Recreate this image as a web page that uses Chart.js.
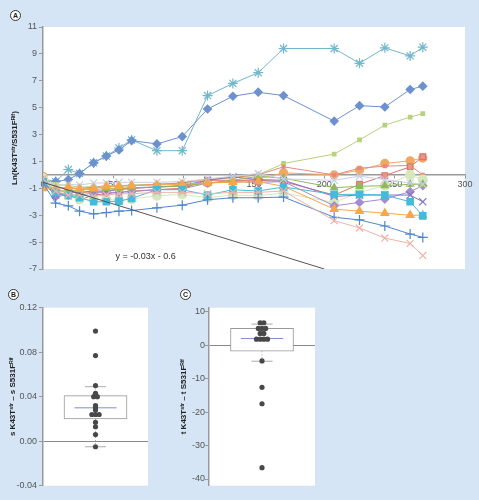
<!DOCTYPE html>
<html>
<head>
<meta charset="utf-8">
<script src="https://cdn.jsdelivr.net/npm/chart.js@4.4.1/dist/chart.umd.min.js"></script>
<style>
  body { margin: 0; background: #d5e5f5; font-family: Arial, "Liberation Sans", sans-serif; }
  #wrap { position: relative; width: 479px; height: 500px; overflow: hidden; }
  canvas { position: absolute; }
  .tag { position: absolute; width: 9px; height: 9px; border: 1px solid #333; border-radius: 50%;
         background: #fff; font-size: 7px; font-weight: bold; line-height: 9px; text-align: center; color: #222; }
</style>
</head>
<body>
<div id="wrap">
  <canvas id="chartA" style="left:0px;top:0px" width="479" height="290"></canvas>
  <canvas id="chartB" style="left:0px;top:290px" width="180" height="210"></canvas>
  <canvas id="chartC" style="left:176px;top:290px" width="170" height="210"></canvas>
  <div class="tag" style="left:10px;top:10px">A</div>
  <div class="tag" style="left:8px;top:289px">B</div>
  <div class="tag" style="left:180px;top:289px">C</div>
</div>
<script>
// panel A: time points and log ratio per population
var days = [0, 9, 18, 26, 36, 45, 54, 63, 81, 99, 117, 135, 153, 171, 207, 225, 243, 261, 270];

var starCyan     = [-0.3, -0.5, 0.4, 0.1, 0.9, 1.4, 2.0, 2.6, 1.8, 1.8, 5.9, 6.8, 7.6, 9.4, 9.4, 8.3, 9.45, 8.85, 9.5];
var diamondBlue  = [-0.5, -0.5, -0.35, 0.1, 0.9, 1.4, 1.85, 2.55, 2.3, 2.85, 4.9, 5.85, 6.15, 5.9, 4.0, 5.15, 5.05, 6.35, 6.6];
var rectLime     = [-0.2, -0.7, -0.8, -0.9, -0.9, -0.8, -0.8, -0.75, -0.7, -0.6, -0.4, -0.2, 0.0, 0.85, 1.55, 2.6, 3.7, 4.3, 4.55];
var circleOrange = [-0.1, -1.1, -1.3, -1.3, -1.3, -1.2, -1.0, -1.0, -0.9, -0.8, -0.6, -0.5, -0.3, 0.15, 0.0, 0.35, 0.85, 1.05, 1.25];
var rectRed      = [-0.7, -1.4, -1.5, -1.85, -1.5, -1.4, -1.3, -1.2, -1.1, -1.0, -0.4, -0.4, -0.4, -0.5, -1.5, -0.7, -0.05, 0.6, 1.35];
var rectRed2     = [-0.5, -0.9, -1.0, -1.0, -0.9, -0.9, -0.8, -0.8, -0.7, -0.6, -0.3, -0.2, 0.0, 0.6, 0.0, 0.5, 0.65, 0.7, 0.0];
var circlePale   = [-0.25, -1.0, -1.3, -1.8, -1.85, -1.8, -1.9, -1.8, -1.55, -1.45, -1.7, -1.5, -1.55, -1.35, -2.05, -1.3, -0.8, 0.0, -0.35];
var diamondPurp  = [-0.5, -1.6, -1.5, -1.5, -1.35, -1.3, -1.3, -1.25, -1.1, -1.05, -0.6, -0.5, -0.55, -0.5, -2.3, -2.05, -1.8, -1.25, -0.8];
var crossPurp    = [-0.5, -1.5, -1.3, -1.3, -1.2, -1.2, -1.1, -1.0, -0.9, -0.8, -0.4, -0.15, -0.35, -0.4, -1.6, -1.5, -1.5, -1.5, -2.0];
var triOrange    = [-1.0, -1.0, -0.9, -1.05, -1.0, -0.85, -0.85, -0.8, -0.75, -0.7, -0.6, -0.55, -0.5, -0.85, -2.55, -2.7, -2.85, -3.0, -3.0];
var rectCyan     = [-0.5, -1.3, -1.55, -1.7, -2.0, -2.0, -1.95, -1.75, -1.1, -1.1, -1.5, -1.1, -1.2, -0.9, -1.45, -1.45, -1.5, -2.0, -3.05];
var plusBlue     = [-0.6, -2.1, -2.3, -2.7, -2.9, -2.8, -2.7, -2.65, -2.45, -2.25, -1.85, -1.7, -1.7, -1.65, -3.15, -3.35, -3.8, -4.4, -4.65];
var crossPink    = [-0.3, -1.2, -1.5, -1.5, -1.6, -1.5, -1.4, -1.4, -1.3, -1.3, -1.4, -1.3, -1.3, -1.2, -3.4, -3.95, -4.7, -5.1, -6.0];
var triGreen     = [-0.4, -1.2, -1.2, -1.1, -1.1, -1.0, -1.0, -0.95, -0.9, -0.85, -0.6, -0.4, -0.1, -0.25, -0.95, -0.85, -0.8, -0.7, -0.7];
var crossLight   = [-0.3, -0.8, -0.7, -0.75, -0.6, -0.6, -0.55, -0.55, -0.55, -0.5, -0.3, -0.1, 0.1, -0.3, -0.4, -0.1, -0.35, -0.6, -0.7];

var trendX = [0, 200];
var trendY = [-0.55, -7.0];
var trendText = "y = -0.03x - 0.6";

// panels B and C: per-population differences, and box stats [lowWhisker, q1, median, q3, highWhisker]
var sDiff = [0.099, 0.077, 0.050, 0.043, 0.040, 0.040, 0.032, 0.030, 0.028, 0.024, 0.024, 0.024, 0.017, 0.013, 0.006, -0.005];
var sBox = [-0.005, 0.020, 0.030, 0.041, 0.049];
var tDiff = [6.7, 6.7, 5.0, 5.0, 5.0, 3.5, 3.5, 1.8, 1.8, 1.8, 1.8, -4.7, -12.6, -17.5, -36.6];
var tBox = [-4.8, -1.8, 2.0, 5.0, 6.3];

var FONT = 'Arial, "Liberation Sans", sans-serif';
Chart.defaults.font.family = FONT;
Chart.defaults.animation = false;
Chart.defaults.plugins.legend.display = false;
Chart.defaults.plugins.tooltip.enabled = false;

var whiteArea = {
  id: 'whiteArea',
  beforeDraw: function (chart) {
    var a = chart.chartArea, ctx = chart.ctx;
    ctx.save();
    ctx.fillStyle = '#fff';
    ctx.fillRect(a.left, a.top, a.right - a.left, a.bottom - a.top);
    ctx.restore();
  }
};

function pts(ys) {
  return days.map(function (d, i) { return { x: d, y: ys[i] }; });
}

var styles = [
  [starCyan, 'star', '#72b7cb', '#72b7cb', 5],
  [diamondBlue, 'rectRot', '#6d91cf', '#6d91cf', 4],
  [rectLime, 'rect', '#b6d27a', '#b6d27a', 2.5],
  [circleOrange, 'circle', '#f2a865', '#f2a865', 4],
  [rectRed2, 'rect', '#e58a80', '#e58a80', 2],
  [rectRed, 'rect', '#d9756d', '#e8948b', 4],
  [circlePale, 'circle', '#d5e8bd', '#d5e8bd', 4.5],
  [diamondPurp, 'rectRot', '#a58bd0', '#a58bd0', 4],
  [crossPurp, 'crossRot', '#8576c2', '#8576c2', 5],
  [triGreen, 'triangle', '#90b95c', '#90b95c', 4],
  [crossLight, 'crossRot', '#c7cfe8', '#c7cfe8', 5],
  [triOrange, 'triangle', '#f7a74a', '#f7a74a', 4.5],
  [rectCyan, 'rect', '#43bbdb', '#43bbdb', 4.5],
  [plusBlue, 'cross', '#4f86d0', '#4f86d0', 5],
  [crossPink, 'crossRot', '#efb4a8', '#efb4a8', 5]
];

var dsA = styles.map(function (s, i) {
  return {
    data: pts(s[0]),
    showLine: true,
    borderColor: s[2],
    borderWidth: 1,
    pointStyle: s[1],
    pointRadius: s[4],
    pointBorderColor: s[2],
    pointBackgroundColor: s[3],
    pointBorderWidth: 1.2,
    order: styles.length - i + 1
  };
});
dsA.push({
  data: trendX.map(function (x, i) { return { x: x, y: trendY[i] }; }),
  showLine: true, borderColor: '#555', borderWidth: 1, pointRadius: 0, order: 0
});

var trendLabel = {
  id: 'trendLabel',
  afterDatasetsDraw: function (chart) {
    var ctx = chart.ctx;
    ctx.save();
    ctx.font = '9px ' + FONT;
    ctx.fillStyle = '#333';
    ctx.textAlign = 'center';
    ctx.textBaseline = 'middle';
    ctx.fillText(trendText, chart.scales.x.getPixelForValue(73), chart.scales.y.getPixelForValue(-6.1));
    ctx.restore();
  }
};

new Chart(document.getElementById('chartA'), {
  type: 'scatter',
  data: { datasets: dsA },
  plugins: [whiteArea, trendLabel],
  options: {
    responsive: false,
    layout: { padding: { top: 27, right: 14, bottom: 21, left: 0 } },
    scales: {
      x: {
        type: 'linear', min: 0, max: 300, position: { y: 0 },
        ticks: { stepSize: 50, color: '#555', font: { size: 9 }, padding: 1 },
        grid: { drawOnChartArea: false, tickLength: 3, color: '#999' },
        border: { color: '#999', width: 1.5 }
      },
      y: {
        min: -7, max: 11,
        ticks: { stepSize: 2, color: '#555', font: { size: 9 }, padding: 2 },
        grid: { drawOnChartArea: false, tickLength: 4, color: '#999' },
        border: { color: '#999', width: 1.5 },
        title: { display: true, text: 'Ln(K43T\u02e2\u1d57\u02b3/S531F\u1d3f\u2071\u1da0)', color: '#222',
                 font: { size: 8, weight: 'bold' }, padding: { top: 10, bottom: 0 } },
        afterFit: function (s) { s.width = 43; }
      }
    }
  }
});

function swarm(vals, gap) {
  var out = [], i = 0;
  while (i < vals.length) {
    var j = i;
    while (j < vals.length && vals[j] === vals[i]) j++;
    var n = j - i;
    for (var k = 0; k < n; k++) out.push({ x: 0.5 + (k - (n - 1) / 2) * gap, y: vals[i] });
    i = j;
  }
  return out;
}

function boxChart(id, vals, box, yMin, yMax, step, fmt, title, axisW, titlePad, rightPad, tickPad) {
  var lo = box[0], q1 = box[1], med = box[2], q3 = box[3], hi = box[4];
  var line = function (a, b, color, dash) {
    return { type: 'scatter', data: [a, b], showLine: true, borderColor: color, borderWidth: 1,
             borderDash: dash || [], pointRadius: 0, order: 1 };
  };
  new Chart(document.getElementById(id), {
    type: 'scatter',
    data: {
      datasets: [
        { type: 'bar', data: [{ x: 0.5, y: [q1, q3] }], backgroundColor: '#fff', borderColor: '#999',
          borderWidth: 1, borderSkipped: false, barThickness: 63, order: 3 },
        line({ x: 0.2, y: med }, { x: 0.8, y: med }, '#7f8ed6'),
        line({ x: 0.35, y: hi }, { x: 0.65, y: hi }, '#aaa'),
        line({ x: 0.35, y: lo }, { x: 0.65, y: lo }, '#aaa'),
        line({ x: 0.5, y: q3 }, { x: 0.5, y: hi }, '#aaa', [1, 2]),
        line({ x: 0.5, y: q1 }, { x: 0.5, y: lo }, '#aaa', [1, 2]),
        { data: swarm(vals, 0.052), pointRadius: 2.6, pointBackgroundColor: '#484848',
          pointBorderColor: '#484848', pointBorderWidth: 0, order: 0 }
      ]
    },
    plugins: [whiteArea],
    options: {
      responsive: false,
      layout: { padding: { top: 17.7, right: rightPad, bottom: 14.3, left: 0 } },
      scales: {
        x: { type: 'linear', min: 0, max: 1, display: false },
        y: {
          min: yMin, max: yMax,
          ticks: { stepSize: step, color: '#555', font: { size: 9 }, padding: tickPad,
                   callback: fmt },
          afterBuildTicks: function (s) {
            var t = [];
            for (var k = Math.ceil(yMin / step - 1e-9); k * step <= yMax + 1e-9; k++) t.push({ value: k * step });
            s.ticks = t;
          },
          grid: { tickLength: 4, tickColor: '#999',
                  color: function (c) { return c.tick && Math.abs(c.tick.value) < 1e-9 ? '#888' : 'rgba(0,0,0,0)'; } },
          border: { color: '#999', width: 1.5 },
          title: { display: true, text: title, color: '#222', font: { size: 8, weight: 'bold' },
                   padding: { top: titlePad, bottom: 0 } },
          afterFit: function (s) { s.width = axisW; }
        }
      }
    }
  });
}

boxChart('chartB', sDiff, sBox, -0.04, 0.12, 0.04,
  function (v) { return v.toFixed(2); },
  's K43T\u02e2\u1d57\u02b3 \u2013 s S531F\u1d3f\u2071\u1da0', 43, 8, 32, 2);
boxChart('chartC', tDiff, tBox, -42, 11.2, 10,
  function (v) { return String(Math.round(v)); },
  't K43T\u02e2\u1d57\u02b3 \u2013 t S531F\u1d3f\u2071\u1da0', 33, 3, 31, 0);
</script>
</body>
</html>
